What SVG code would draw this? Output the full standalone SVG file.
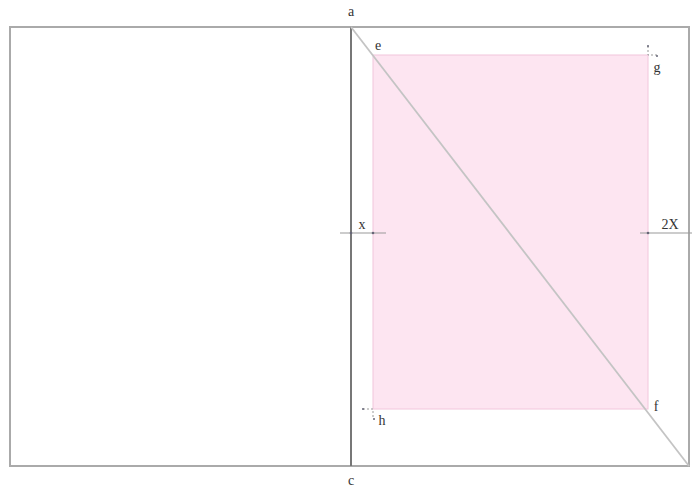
<svg xmlns="http://www.w3.org/2000/svg" width="692" height="489" viewBox="0 0 692 489">
<style>
text{font-family:"Liberation Serif","DejaVu Serif",serif;font-size:14px;fill:#333;text-anchor:middle}
.dim{stroke:#999;stroke-width:1;fill:none}
.dot{fill:#667}
</style>
<rect width="692" height="489" fill="#fff"/>
<g id="page">
<rect x="10" y="27" width="679" height="439" fill="none" stroke="#aaa" stroke-width="2"/>
</g>
<g id="rect-efgh">
<rect x="373" y="55" width="275" height="354" fill="#fde5f1" stroke="#f2c6dc" stroke-width="1"/>
</g>
<g id="connectors">
<line x1="351" y1="27" x2="351" y2="466" stroke="#777" stroke-width="2"/>
<line x1="351" y1="27" x2="689" y2="466" stroke="#c4c4c4" stroke-width="1.8"/>
<line class="dim" x1="340" y1="233" x2="386" y2="233"/>
<circle class="dot" cx="351" cy="233" r="1.3"/>
<circle class="dot" cx="373" cy="233" r="1.3"/>
<line class="dim" x1="640" y1="233" x2="692" y2="233"/>
<circle class="dot" cx="648" cy="233" r="1.3"/>
<path class="dim" d="M648 46 V55 H657" stroke-dasharray="2 2"/>
<circle class="dot" cx="648" cy="46" r="1"/>
<circle class="dot" cx="657" cy="56" r="1"/>
<path class="dim" d="M363 409 H373 V419" stroke-dasharray="2 2"/>
<circle class="dot" cx="363" cy="409" r="1"/>
<circle class="dot" cx="374" cy="419" r="1"/>
</g>
<g id="labels">
<text x="351" y="16">a</text>
<text x="378" y="50">e</text>
<text x="657" y="72">g</text>
<text x="362" y="229">x</text>
<text x="670" y="229">2X</text>
<text x="382" y="425">h</text>
<text x="656" y="411">f</text>
<text x="351" y="485">c</text>
</g>
</svg>
